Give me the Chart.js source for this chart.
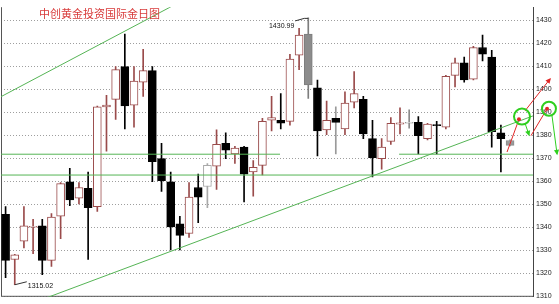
<!DOCTYPE html>
<html>
<head>
<meta charset="utf-8">
<script src="https://cdn.jsdelivr.net/npm/chart.js@4/dist/chart.umd.min.js"></script>
<style>
  html, body { margin: 0; padding: 0; background: #fff; }
  canvas { display: block; }
</style>
</head>
<body>
<canvas id="chart" width="559" height="304"></canvas>
<script>
// Daily gold sessions (two empty slots on the right for the projection)
const sessions = ['1','2','3','4','5','6','7','8','9','10','11','12','13','14','15','16','17','18','19','20',
  '21','22','23','24','25','26','27','28','29','30','31','32','33','34','35','36','37','38','39','40',
  '41','42','43','44','45','46','47','48','49','50','51','52','53','54','55','56','57','58'];

const opens  = [1345.6,1326.0,1334.0,1340.0,1340.6,1325.6,1344.8,1359.8,1352.7,1356.9,
                1349.0,1392.3,1395.6,1409.8,1393.1,1403.1,1408.1,1369.8,1359.8,1341.5,
                1337.3,1357.3,1357.7,1366.5,1376.5,1371.9,1374.8,1364.0,1366.9,1386.5,
                1386.5,1386.0,1414.8,1424.0,1400.6,1382.3,1387.3,1382.7,1394.4,1395.6,
                1378.5,1369.8,1377.3,1384.8,1385.2,1385.6,1378.5,1384.6,1383.5,1406.0,
                1411.5,1404.4,1418.1,1414.0,1381.0,1377.7];
const highs  = [1349.0,1328.2,1349.0,1343.5,1343.5,1346.0,1359.4,1365.6,1359.4,1364.0,
                1392.7,1397.3,1409.8,1424.0,1409.8,1417.3,1409.8,1376.5,1364.0,1344.8,
                1359.4,1363.1,1367.7,1382.3,1381.0,1375.2,1375.2,1369.0,1387.3,1396.9,
                1398.1,1415.2,1426.5,1430.99,1404.0,1394.8,1392.3,1398.9,1407.7,1396.9,
                1386.5,1378.5,1387.7,1391.9,1391.0,1388.1,1385.2,1386.0,1406.0,1413.5,
                1414.0,1418.6,1423.5,1416.9,1384.4,1378.0];
const lows   = [1318.1,1315.02,1331.0,1328.5,1319.4,1323.0,1335.0,1349.4,1350.2,1326.0,
                1346.9,1373.1,1386.9,1382.7,1383.5,1396.9,1359.8,1355.6,1330.2,1330.2,
                1335.6,1342.0,1348.5,1356.5,1369.8,1367.7,1351.0,1353.5,1362.7,1381.9,
                1382.7,1384.4,1408.5,1396.0,1371.0,1380.2,1371.9,1380.2,1391.9,1378.5,
                1361.9,1365.2,1376.0,1380.6,1383.1,1371.9,1378.0,1371.9,1382.7,1401.0,
                1403.1,1404.0,1412.3,1374.8,1364.0,1375.4];
const closes = [1325.6,1328.0,1340.6,1340.4,1325.6,1344.4,1359.0,1351.9,1357.3,1348.5,
                1392.3,1393.1,1408.5,1392.7,1403.5,1408.1,1368.5,1360.2,1340.2,1336.5,
                1353.1,1353.1,1366.9,1376.0,1373.5,1374.4,1363.1,1366.0,1386.0,1387.7,
                1385.2,1413.1,1423.5,1401.9,1381.9,1386.5,1385.6,1394.0,1398.1,1380.6,
                1370.2,1374.8,1385.2,1385.4,1385.2,1379.8,1384.8,1384.2,1405.6,1411.5,
                1404.0,1418.1,1415.2,1381.5,1378.5,1375.6];

const priceTicks = [1310,1320,1330,1340,1350,1360,1370,1380,1390,1400,1410,1420,1430];

// Support levels and channel lines (session index, price)
const supportUpper = 1371.75;
const supportLower = 1362.7;
const upperChannel = [{x: -1, y: 1395.7}, {x: 20, y: 1440.0}];
const lowerChannel = [{x: 0, y: 1302.7}, {x: 57.5, y: 1388.4}];

// Projection marks drawn at the right edge
const redPath1   = [{x: 54.67, y: 1372.7}, {x: 55.97, y: 1386.9}];
const redArrow   = [{x: 56.63, y: 1390.6}, {x: 59.35, y: 1404.4}];
const greenDrop1 = [{x: 56.63, y: 1385.2}, {x: 57.06, y: 1380.2}];
const redPath2   = [{x: 57.28, y: 1379.8}, {x: 59.03, y: 1391.5}];
const greenDrop2 = [{x: 59.57, y: 1388.5}, {x: 60.12, y: 1371.9}];
const rings      = [{x: 56.30, y: 1388.1}, {x: 59.24, y: 1391.5}];

const titleText = '中创黄金投资国际金日图';

// ---- styling ----
const UP_LINE = '#9a4b4b';
const GREEN = '#55b455';
const MARK_GREEN = '#2fcf1f';
const MARK_RED = '#e02626';
const candleTint = {
  22: {fill: '#ffffff', line: '#a9a9a9', wick: '#a9a9a9'},
  33: {fill: '#8c8c8c', line: '#7d7d7d', wick: '#7d7d7d'},
  36: {wick: '#9a9a9a'},
  44: {fill: '#ffffff', line: '#8a8a8a', wick: '#8a8a8a'},
  55: {fill: '#9a9a9a', line: '#8c8c8c', wick: '#8c8c8c'}
};
const isUp = i => closes[i] >= opens[i];
const fills = opens.map((_, i) => (candleTint[i] && candleTint[i].fill) || (isUp(i) ? '#ffffff' : '#000000'));
const lines = opens.map((_, i) => (candleTint[i] && candleTint[i].line) || (isUp(i) ? UP_LINE : '#000000'));
const wicks = opens.map((_, i) => (candleTint[i] && candleTint[i].wick) || (isUp(i) ? UP_LINE : '#000000'));

const segment = (data, color, extra) => Object.assign({
  type: 'line', xAxisID: 'x2', yAxisID: 'y', data,
  borderColor: color, borderWidth: 1, pointRadius: 0, order: 0, tension: 0
}, extra || {});
const freeSegment = (data, color) => segment(data, color, {clip: false});

// Frame lines, title, callouts and projection markers
const decorations = {
  id: 'decorations',
  beforeDatasetsDraw(chart) {
    const {ctx, chartArea: a} = chart;
    ctx.save();
    ctx.strokeStyle = '#555';
    ctx.lineWidth = 1;
    ctx.beginPath();
    ctx.moveTo(a.left + 0.5, a.top);
    ctx.lineTo(a.left + 0.5, a.bottom - 0.5);
    ctx.lineTo(a.right, a.bottom - 0.5);
    ctx.stroke();
    ctx.restore();
  },
  afterDatasetsDraw(chart) {
    const {ctx, scales: {x, x2, y}} = chart;
    ctx.save();
    ctx.font = '11px "Noto Sans CJK SC"';
    ctx.fillStyle = '#d83a3a';
    ctx.textBaseline = 'middle';
    ctx.textAlign = 'left';
    ctx.fillText(titleText, 39, 14);

    ctx.font = '7px "Liberation Sans"';
    ctx.fillStyle = '#111';
    ctx.strokeStyle = '#333';
    ctx.lineWidth = 1;

    const top = highs.indexOf(Math.max(...highs));
    const hx = x.getPixelForValue(top), hy = y.getPixelForValue(highs[top]);
    ctx.beginPath();
    ctx.moveTo(hx, hy + 0.5);
    ctx.lineTo(hx - 4, hy + 0.5);
    ctx.lineTo(hx - 13, hy + 3);
    ctx.stroke();
    ctx.textAlign = 'right';
    ctx.fillText(highs[top].toFixed(2), hx - 14, hy + 8);

    const bot = lows.indexOf(Math.min(...lows));
    const lx = x.getPixelForValue(bot), ly = y.getPixelForValue(lows[bot]);
    ctx.beginPath();
    ctx.moveTo(lx, ly);
    ctx.lineTo(lx + 12, ly - 3);
    ctx.stroke();
    ctx.textAlign = 'left';
    ctx.fillText(lows[bot].toFixed(2), lx + 13, ly + 1.5);

    const px = p => [x2.getPixelForValue(p.x), y.getPixelForValue(p.y)];
    // arrowheads oriented along their segment
    const head = (seg, color) => {
      const [ax, ay] = px(seg[0]), [bx, by] = px(seg[1]);
      const ang = Math.atan2(by - ay, bx - ax);
      ctx.save();
      ctx.translate(bx, by);
      ctx.rotate(ang);
      ctx.fillStyle = color;
      ctx.beginPath();
      ctx.moveTo(1.5, 0);
      ctx.lineTo(-4, -2.6);
      ctx.lineTo(-4, 2.6);
      ctx.closePath();
      ctx.fill();
      ctx.restore();
    };
    head(redArrow, MARK_RED);
    head(greenDrop1, MARK_GREEN);
    head(greenDrop2, MARK_GREEN);

    // red tips inside the rings
    [redPath1, redPath2].forEach(seg => {
      const [dx, dy] = px(seg[1]);
      ctx.fillStyle = MARK_RED;
      ctx.beginPath();
      ctx.arc(dx, dy, 2, 0, Math.PI * 2);
      ctx.fill();
    });

    ctx.strokeStyle = MARK_GREEN;
    ctx.lineWidth = 2;
    rings.forEach((r, i) => {
      const [cx, cy] = px(r);
      ctx.beginPath();
      ctx.arc(cx, cy, i === 0 ? 8 : 7, 0, Math.PI * 2);
      ctx.stroke();
    });
    ctx.restore();
  }
};

new Chart(document.getElementById('chart'), {
  type: 'bar',
  data: {
    labels: sessions,
    datasets: [
      {
        label: 'body', data: opens.map((o, i) => [o, closes[i]]),
        backgroundColor: fills, borderColor: lines, borderWidth: 1, borderSkipped: false,
        barThickness: 8, minBarLength: 1, grouped: false, order: 1
      },
      {
        label: 'wick', data: lows.map((l, i) => [l, highs[i]]),
        backgroundColor: wicks, borderWidth: 0, barThickness: 1, grouped: false, order: 2
      },
      segment(upperChannel, GREEN),
      segment(lowerChannel, GREEN),
      segment([{x: -0.5, y: supportUpper}, {x: 29.92, y: supportUpper}], GREEN),
      segment([{x: 42.9, y: supportUpper}, {x: 57.5, y: supportUpper}], GREEN),
      segment([{x: -0.5, y: supportLower}, {x: 57.5, y: supportLower}], GREEN),
      freeSegment(redPath1, MARK_RED),
      freeSegment(redArrow, MARK_RED),
      freeSegment(greenDrop1, MARK_GREEN),
      freeSegment(redPath2, MARK_RED),
      freeSegment(greenDrop2, MARK_GREEN)
    ]
  },
  options: {
    responsive: false,
    animation: false,
    events: [],
    layout: {autoPadding: false, padding: {left: 1, top: 0, right: 0, bottom: 2}},
    plugins: {legend: {display: false}, tooltip: {enabled: false}, title: {display: false}},
    scales: {
      x: {type: 'category', display: false, offset: true},
      x2: {type: 'linear', display: false, offset: false, min: -0.5, max: 57.5},
      y: {
        position: 'right',
        min: 1309.79, max: 1435.63,
        afterBuildTicks(scale) { scale.ticks = priceTicks.map(v => ({value: v})); },
        afterFit(scale) { scale.width = 26; },
        grid: {color: 'rgba(0,0,0,0.38)', drawTicks: false, lineWidth: 1},
        border: {display: true, color: '#444', width: 1, dash: [1, 2]},
        ticks: {
          padding: 3, color: '#222',
          font: {family: 'Liberation Sans', size: 7},
          callback: v => String(v)
        }
      }
    }
  },
  plugins: [decorations]
});
</script>
</body>
</html>
